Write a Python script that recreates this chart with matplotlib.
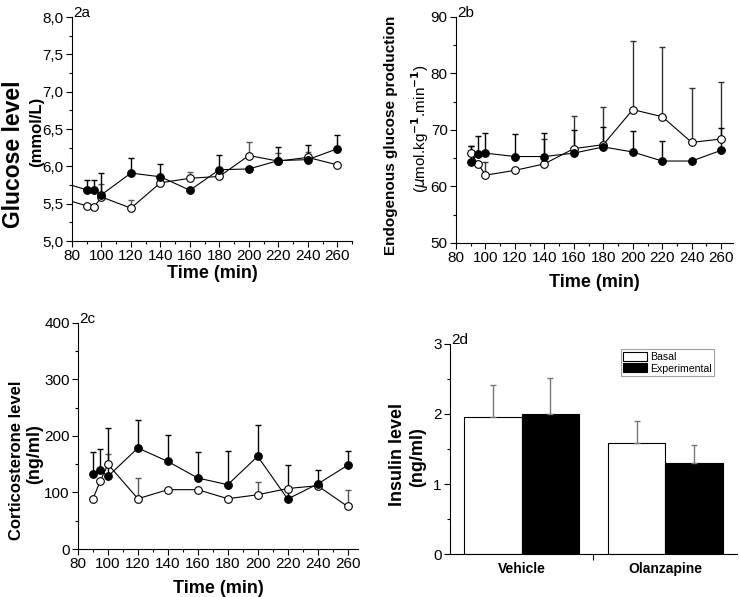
import numpy as np
import matplotlib
matplotlib.use("Agg")
import matplotlib.pyplot as plt
from matplotlib.ticker import MultipleLocator, FuncFormatter

plt.rcParams['font.family'] = ['Liberation Sans', 'DejaVu Sans']

# 2a glucose (first point at 60 min lies off the left of the axis)
t_gluc = [60, 90, 95, 100, 120, 140, 160, 180, 200, 220, 240, 260]
gluc_exp = [5.865, 5.685, 5.685, 5.62, 5.91, 5.86, 5.68, 5.955, 5.965, 6.077, 6.09, 6.235]
gluc_exp_err = [0, 0.13, 0.13, 0.29, 0.20, 0.17, 0.0, 0.20, 0.0, 0.18, 0.19, 0.18]
gluc_bas = [5.65, 5.47, 5.455, 5.59, 5.44, 5.78, 5.84, 5.865, 6.145, 6.07, 6.12, 6.02]
gluc_bas_err = [0, 0.0, 0.0, 0.18, 0.11, 0.0, 0.08, 0.0, 0.18, 0.11, 0.07, 0.0]

# 2b endogenous glucose production
t = [90, 95, 100, 120, 140, 160, 180, 200, 220, 240, 260]
egp_exp = [64.4, 65.8, 65.9, 65.3, 65.3, 65.9, 67.0, 66.1, 64.5, 64.5, 66.4]
egp_exp_err = [2.7, 3.2, 3.6, 4.0, 4.2, 4.1, 3.6, 3.65, 3.5, 0.0, 3.9]
egp_bas = [65.9, 64.0, 62.0, 62.85, 64.0, 66.7, 67.4, 73.6, 72.35, 67.8, 68.4]
egp_bas_err = [1.3, 0.0, 2.3, 0.0, 4.4, 5.7, 6.6, 12.2, 12.35, 9.7, 10.1]

# 2c corticosterone
cort_exp = [133, 139, 128.5, 178.7, 155, 125.6, 113.8, 164, 88.5, 115, 148]
cort_exp_err = [38, 38.5, 85.5, 49, 46, 45.4, 59, 56, 60, 24, 24.8]
cort_bas = [89, 121, 150, 89, 105, 105, 89, 96, 107, 112, 75.4]
cort_bas_err = [0, 0, 18.7, 36, 0, 0, 0, 22, 0, 0, 28.3]

# 2d insulin
groups = ['Vehicle', 'Olanzapine']
ins_bas = [1.953, 1.58]
ins_bas_err = [0.46, 0.32]
ins_exp = [1.997, 1.30]
ins_exp_err = [0.52, 0.26]

fig = plt.figure(figsize=(7.4, 5.97), dpi=100)


def comma(v, pos):
    return f"{v:.1f}".replace('.', ',')


def style(ax):
    for s in ['top', 'right']:
        ax.spines[s].set_visible(False)
    for s in ['left', 'bottom']:
        ax.spines[s].set_linewidth(0.8)
    ax.tick_params(which='major', length=4, width=0.8, labelsize=11, pad=2)
    ax.tick_params(which='minor', length=2.5, width=0.8)


def panel_tag(ax, s):
    ax.annotate(s, xy=(0, 1), xycoords='axes fraction', xytext=(1, 0),
                textcoords='offset points', fontsize=11, va='baseline')


def series(ax, x, y, err, filled, ecolor):
    lo = np.zeros(len(err))
    ax.errorbar(x, y, yerr=[lo, err], fmt='none', ecolor=ecolor,
                elinewidth=1.0, capsize=2, capthick=1.0, zorder=2 if not filled else 3)
    ax.plot(x, y, '-o', color='black', lw=0.8, ms=5.5,
            mfc='black' if filled else 'white', mec='black', mew=0.8,
            zorder=4 if filled else 3.5)


# ---- 2a
ax = fig.add_axes([0.0973, 0.5963, 0.3784, 0.3752])
series(ax, t_gluc, gluc_bas, gluc_bas_err, False, '#555555')
series(ax, t_gluc, gluc_exp, gluc_exp_err, True, 'black')
ax.set_xlim(80, 270)
ax.set_ylim(5.0, 8.0)
ax.xaxis.set_major_locator(MultipleLocator(20))
ax.xaxis.set_minor_locator(MultipleLocator(10))
ax.yaxis.set_major_locator(MultipleLocator(0.5))
ax.yaxis.set_minor_locator(MultipleLocator(0.25))
ax.yaxis.set_major_formatter(FuncFormatter(comma))
style(ax)
ax.set_xlabel('Time (min)', fontsize=13, fontweight='bold', labelpad=1)
panel_tag(ax, '2a')
fig.text(14 / 740, 1 - 154 / 597, 'Glucose level', rotation=90, fontsize=16.5,
         fontweight='bold', ha='center', va='center')
fig.text(37 / 740, 1 - 132 / 597, '(mmol/L)', rotation=90, fontsize=12,
         fontweight='bold', ha='center', va='center')

# ---- 2b
ax = fig.add_axes([0.6162, 0.5930, 0.3743, 0.3786])
series(ax, t, egp_bas, egp_bas_err, False, '#333333')
series(ax, t, egp_exp, egp_exp_err, True, 'black')
ax.set_xlim(80, 268)
ax.set_ylim(50, 90)
ax.xaxis.set_major_locator(MultipleLocator(20))
ax.xaxis.set_minor_locator(MultipleLocator(10))
ax.yaxis.set_major_locator(MultipleLocator(10))
ax.yaxis.set_minor_locator(MultipleLocator(5))
style(ax)
ax.set_xlabel('Time (min)', fontsize=13, fontweight='bold', labelpad=6)
panel_tag(ax, '2b')
fig.text(391 / 740, 1 - 135 / 597, 'Endogenous glucose production', rotation=90,
         fontsize=11, fontweight='bold', ha='center', va='center')
fig.text(420 / 740, 1 - 129 / 597, r'($\mu$mol.kg$^{\mathbf{-1}}$.min$^{\mathbf{-1}}$)',
         rotation=90, fontsize=11, ha='center', va='center')

# ---- 2c
ax = fig.add_axes([0.1054, 0.0804, 0.3784, 0.3786])
series(ax, t, cort_bas, cort_bas_err, False, '#555555')
series(ax, t, cort_exp, cort_exp_err, True, 'black')
ax.set_xlim(80, 267)
ax.set_ylim(0, 400)
ax.xaxis.set_major_locator(MultipleLocator(20))
ax.xaxis.set_minor_locator(MultipleLocator(10))
ax.yaxis.set_major_locator(MultipleLocator(100))
ax.yaxis.set_minor_locator(MultipleLocator(50))
style(ax)
ax.set_xlabel('Time (min)', fontsize=13, fontweight='bold', labelpad=6)
panel_tag(ax, '2c')
fig.text(17 / 740, 1 - 460 / 597, 'Corticosterone level', rotation=90, fontsize=12,
         fontweight='bold', ha='center', va='center')
fig.text(35 / 740, 1 - 454 / 597, '(ng/ml)', rotation=90, fontsize=13,
         fontweight='bold', ha='center', va='center')

# ---- 2d
ax = fig.add_axes([0.6081, 0.0720, 0.3878, 0.3518])
x = np.arange(1, len(groups) + 1)
w = 0.4
ax.bar(x - w / 2, ins_bas, w, color='white', edgecolor='black', lw=0.8, label='Basal')
ax.bar(x + w / 2, ins_exp, w, color='black', edgecolor='black', lw=0.8, label='Experimental')
lo = np.zeros(len(groups))
ax.errorbar(x - w / 2, ins_bas, yerr=[lo, ins_bas_err], fmt='none', ecolor='#777777',
            elinewidth=1.0, capsize=2, capthick=1.0)
ax.errorbar(x + w / 2, ins_exp, yerr=[lo, ins_exp_err], fmt='none', ecolor='#777777',
            elinewidth=1.0, capsize=2, capthick=1.0)
ax.set_xlim(0.5, 2.5)
ax.set_ylim(0, 3)
ax.set_xticks([1.5])
ax.set_xticklabels([''])
ax.set_xticks(x, minor=True)
ax.set_xticklabels(groups, minor=True, fontsize=10, fontweight='bold')
ax.yaxis.set_major_locator(MultipleLocator(1))
ax.yaxis.set_minor_locator(MultipleLocator(0.5))
style(ax)
ax.tick_params(axis='x', which='minor', length=0, pad=6, labelsize=10)
panel_tag(ax, '2d')
leg = ax.legend(loc='upper right', bbox_to_anchor=(0.92, 0.975), fontsize=7.6,
                frameon=True, fancybox=False, borderpad=0.25, labelspacing=0.15,
                handlelength=2.2, handleheight=0.9, handletextpad=0.3, borderaxespad=0)
leg.get_frame().set_edgecolor('#888888')
leg.get_frame().set_linewidth(0.8)
fig.text(398 / 740, 1 - 455 / 597, 'Insulin level', rotation=90, fontsize=13,
         fontweight='bold', ha='center', va='center')
fig.text(418 / 740, 1 - 457 / 597, '(ng/ml)', rotation=90, fontsize=13,
         fontweight='bold', ha='center', va='center')

fig.savefig('out.png', dpi=100)
